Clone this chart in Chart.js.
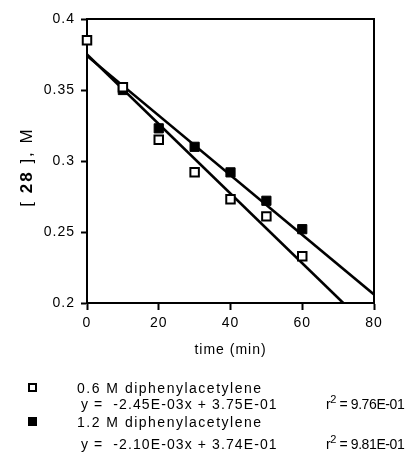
<!DOCTYPE html>
<html>
<head>
<meta charset="utf-8">
<script src="https://cdn.jsdelivr.net/npm/chart.js@4.4.0/dist/chart.umd.min.js"></script>
<style>
	body { margin: 0; background: #fff; font-family: 'Liberation Sans', Arial, sans-serif; color: #000; }
	#wrap { position: relative; width: 409px; height: 454px; overflow: hidden; }
	#chart { position: absolute; left: 0; top: 0; }
	.ytitle { position: absolute; left: 27px; top: 167px; font-size: 17px; letter-spacing: 2px; white-space: pre;
		transform: translate(-50%, -50%) rotate(-90deg); }
	.row { position: absolute; font-size: 14px; line-height: 16px; letter-spacing: 1.5px; white-space: pre; }
	.eq { letter-spacing: 1.1px; }
	.r2 { letter-spacing: -0.4px; }
	.sq { position: absolute; width: 9px; height: 9px; box-sizing: border-box; border: 2px solid #000; }
	sup { font-size: 11px; line-height: 0; vertical-align: 6px; }
</style>
</head>
<body>
<div id="wrap">
	<canvas id="chart" width="409" height="363"></canvas>
	<div class="ytitle">[ <b>28</b> ], M</div>
	<div id="legend"></div>
</div>
<script>
	// data
	const times = [0, 10, 20, 30, 40, 50, 60];
	const conc06 = [0.385, 0.352, 0.315, 0.292, 0.273, 0.261, 0.233];
	const times12 = [10, 20, 30, 40, 50, 60];
	const conc12 = [0.350, 0.323, 0.310, 0.292, 0.272, 0.252];

	const seriesNames = ['0.6 M diphenylacetylene', '1.2 M diphenylacetylene'];
	const slopes = [-2.45e-3, -2.10e-3];
	const intercepts = [3.75e-1, 3.74e-1];
	const rSquared = [9.76e-1, 9.81e-1];

	const xTicks = [0, 20, 40, 60, 80];
	const yTicks = [0.2, 0.25, 0.3, 0.35, 0.4];

	const xMin = xTicks[0], xMax = xTicks[xTicks.length - 1];
	const yMin = yTicks[0], yMax = yTicks[yTicks.length - 1];

	function toPoints(xs, ys) {
		return xs.map((x, i) => ({ x, y: ys[i] }));
	}

	// regression line from x=0 until it leaves the plot
	function fitLine(m, b) {
		let xEnd = xMax;
		if (m * xEnd + b < yMin) xEnd = (yMin - b) / m;
		return [{ x: xMin, y: b }, { x: xEnd, y: m * xEnd + b }];
	}

	function sci(v) {
		const [mant, exp] = v.toExponential(2).split('e');
		const e = parseInt(exp);
		return mant + 'E' + (e < 0 ? '-' : '+') + String(Math.abs(e)).padStart(2, '0');
	}

	const FONT = "'Liberation Sans', Arial, sans-serif";

	const framePlugin = {
		id: 'frame',
		beforeDraw(chart) {
			chart.ctx.letterSpacing = '1px';
		},
		afterDraw(chart) {
			const { ctx, chartArea: a } = chart;
			ctx.save();
			ctx.strokeStyle = '#000';
			ctx.lineWidth = 2;
			ctx.beginPath();
			ctx.moveTo(a.left, a.top);
			ctx.lineTo(a.right, a.top);
			ctx.lineTo(a.right, a.bottom);
			ctx.stroke();
			ctx.restore();
		},
	};

	new Chart(document.getElementById('chart'), {
		type: 'scatter',
		data: {
			datasets: [
				{
					label: seriesNames[0],
					data: toPoints(times, conc06),
					pointStyle: 'rect',
					pointRadius: 6,
					backgroundColor: '#fff',
					borderColor: '#000',
					borderWidth: 2,
					clip: false,
					order: 0,
				},
				{
					label: seriesNames[1],
					data: toPoints(times12, conc12),
					pointStyle: 'rect',
					pointRadius: 6.5,
					backgroundColor: '#000',
					borderColor: '#000',
					borderWidth: 1,
					clip: false,
					order: 1,
				},
				...slopes.map((m, i) => ({
					type: 'line',
					label: 'fit ' + seriesNames[i],
					data: fitLine(m, intercepts[i]),
					borderColor: '#000',
					borderWidth: 2.6,
					pointRadius: 0,
					fill: false,
					order: 2,
				})),
			],
		},
		options: {
			responsive: false,
			animation: false,
			events: [],
			layout: { padding: { top: 19, right: 35, left: 0, bottom: 0 } },
			plugins: { legend: { display: false }, tooltip: { enabled: false } },
			scales: {
				x: {
					type: 'linear',
					min: xMin,
					max: xMax,
					afterBuildTicks: (s) => { s.ticks = xTicks.map((v) => ({ value: v })); },
					afterFit: (s) => { s.height = 60; },
					border: { color: '#000', width: 2 },
					grid: { drawOnChartArea: false, tickLength: 7, tickWidth: 2, tickColor: '#000' },
					ticks: { color: '#000', padding: 5, maxRotation: 0, font: { family: FONT, size: 14 } },
					title: { display: true, text: 'time (min)', color: '#000', font: { family: FONT, size: 14 } },
				},
				y: {
					type: 'linear',
					min: yMin,
					max: yMax,
					afterBuildTicks: (s) => { s.ticks = yTicks.map((v) => ({ value: v })); },
					afterFit: (s) => { s.width = 87; },
					border: { color: '#000', width: 2 },
					grid: { drawOnChartArea: false, tickLength: 6, tickWidth: 2, tickColor: '#000' },
					ticks: {
						color: '#000',
						padding: 6,
						font: { family: FONT, size: 14 },
						callback: (v) => String(parseFloat(v.toFixed(2))),
					},
				},
			},
		},
		plugins: [framePlugin],
	});

	// legend under the plot
	const legendEl = document.getElementById('legend');
	const rowTops = [[380, 396], [414, 436]];
	seriesNames.forEach((name, i) => {
		const [nameTop, eqTop] = rowTops[i];
		const fill = i === 0 ? '#fff' : '#000';
		legendEl.insertAdjacentHTML(
			'beforeend',
			`<div class="sq" style="left:28px;top:${nameTop + 3}px;background:${fill}"></div>
			<div class="row" style="left:77px;top:${nameTop}px">${name}</div>
			<div class="row eq" style="left:81px;top:${eqTop}px">y =  ${sci(slopes[i])}x + ${sci(intercepts[i])}</div>
			<div class="row r2" style="left:326px;top:${eqTop}px">r<sup>2</sup> = ${sci(rSquared[i])}</div>`
		);
	});
</script>
</body>
</html>
